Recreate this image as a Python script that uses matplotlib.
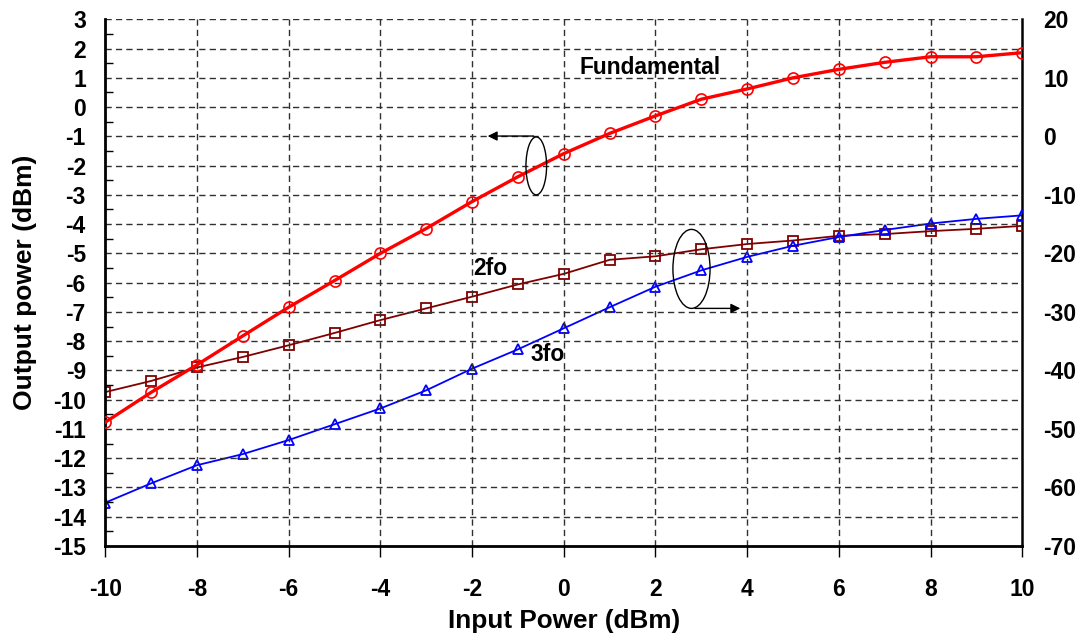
import matplotlib
matplotlib.use("Agg")
import matplotlib.pyplot as plt
from matplotlib.patches import Ellipse
from matplotlib.ticker import MultipleLocator

plt.rcParams['font.family'] = ['Liberation Sans', 'DejaVu Sans']
plt.rcParams['font.weight'] = 'bold'
plt.rcParams['axes.unicode_minus'] = False

input_power = [-10, -9, -8, -7, -6, -5, -4, -3, -2, -1, 0, 1, 2, 3, 4, 5, 6, 7, 8, 9, 10]
fundamental = [-10.77, -9.75, -8.81, -7.82, -6.84, -5.93, -5.0, -4.15, -3.23, -2.38, -1.59,
               -0.9, -0.3, 0.27, 0.62, 1.0, 1.29, 1.53, 1.72, 1.72, 1.86]
second_harm = [-43.7, -41.8, -39.5, -37.7, -35.7, -33.6, -31.4, -29.4, -27.4, -25.3, -23.5,
               -21.1, -20.5, -19.3, -18.4, -17.8, -17.0, -16.7, -16.2, -15.8, -15.3]
third_harm = [-62.6, -59.3, -56.2, -54.3, -51.9, -49.2, -46.5, -43.4, -39.7, -36.4, -32.8,
              -29.2, -25.7, -22.9, -20.6, -18.7, -17.2, -16.0, -14.9, -14.1, -13.5]

left_ticks = list(range(-15, 4))
right_ticks = list(range(-70, 21, 10))
x_ticks = list(range(-10, 11, 2))

fig = plt.figure(figsize=(10.84, 6.35), dpi=100)
ax = fig.add_axes([0.0971, 0.1402, 0.9431 - 0.0971, 0.9696 - 0.1402])
ax2 = ax.twinx()

ax.set_xlim(-10, 10)
ax.set_ylim(-15, 3)
ax2.set_ylim(-70, 20)

grid_kw = dict(color='#303030', lw=1.0, linestyle=(0, (4.5, 3)), zorder=0)
for v in left_ticks[1:-1]:
    ax.axhline(v, **grid_kw)
ax.axhline(3, **grid_kw)
for v in x_ticks[1:-1]:
    ax.axvline(v, **grid_kw)

ax.plot(input_power, fundamental, color='#ff0000', lw=2.4, marker='o', ms=8,
        mfc='none', mec='#ff0000', mew=1.2, zorder=5)
ax2.plot(input_power, second_harm, color='#800000', lw=1.3, marker='s', ms=7.5,
         mfc='none', mec='#800000', mew=1.3, zorder=4)
ax2.plot(input_power, third_harm, color='#0000ff', lw=1.3, marker='^', ms=7.5,
         mfc='none', mec='#0000ff', mew=1.3, zorder=4)

ax.set_xticks(x_ticks)
ax.set_yticks(left_ticks)
ax.yaxis.set_minor_locator(MultipleLocator(0.5))
ax2.set_yticks(right_ticks)
ax2.yaxis.set_minor_locator(MultipleLocator(5))

ax.tick_params(axis='x', direction='out', length=8, width=1, labelsize=16.5, pad=15)
ax.tick_params(axis='y', which='major', direction='in', length=0, labelsize=16.5, pad=14)
ax.tick_params(axis='y', which='minor', direction='in', length=6, width=1)
ax2.tick_params(axis='y', which='major', direction='in', length=0, labelsize=16.5, pad=15)
ax2.tick_params(axis='y', which='minor', direction='in', length=0)
for lab in ax.get_xticklabels() + ax.get_yticklabels() + ax2.get_yticklabels():
    lab.set_fontweight('bold')

ax.spines['left'].set_linewidth(2)
ax.spines['bottom'].set_linewidth(2)
ax.spines['top'].set_visible(False)
ax2.spines['top'].set_visible(False)
ax2.spines['left'].set_visible(False)
ax2.spines['bottom'].set_visible(False)
ax.spines['right'].set_visible(False)
ax2.spines['right'].set_linewidth(1.8)

ax.set_xlabel('Input Power (dBm)', fontsize=18.8, fontweight='bold', labelpad=6)
ax.set_ylabel('Output power (dBm)', fontsize=19, fontweight='bold', labelpad=11)

ax.text(0.35, 1.34, 'Fundamental', fontsize=16.4, fontweight='bold', va='center', ha='left', zorder=6)
ax.text(-1.61, -5.5, '2fo', fontsize=16.4, fontweight='bold', va='center', ha='center', zorder=6)
ax.text(-0.36, -8.47, '3fo', fontsize=16.4, fontweight='bold', va='center', ha='center', zorder=6)

ax.add_patch(Ellipse((-0.6, -2.01), 0.45, 1.98, fill=False, ec='black', lw=1.0, zorder=6))
ax.add_patch(Ellipse((2.785, -5.53), 0.81, 2.7, fill=False, ec='black', lw=1.0, zorder=6))
ax.annotate('', xy=(-1.72, -0.99), xytext=(-0.6, -0.99),
            arrowprops=dict(arrowstyle='-|>', color='black', lw=1.0, mutation_scale=14), zorder=6)
ax.annotate('', xy=(3.91, -6.88), xytext=(2.8, -6.88),
            arrowprops=dict(arrowstyle='-|>', color='black', lw=1.0, mutation_scale=14), zorder=6)

ax.set_zorder(ax2.get_zorder() + 1)
ax.patch.set_visible(False)

fig.savefig('out.png', dpi=100)
